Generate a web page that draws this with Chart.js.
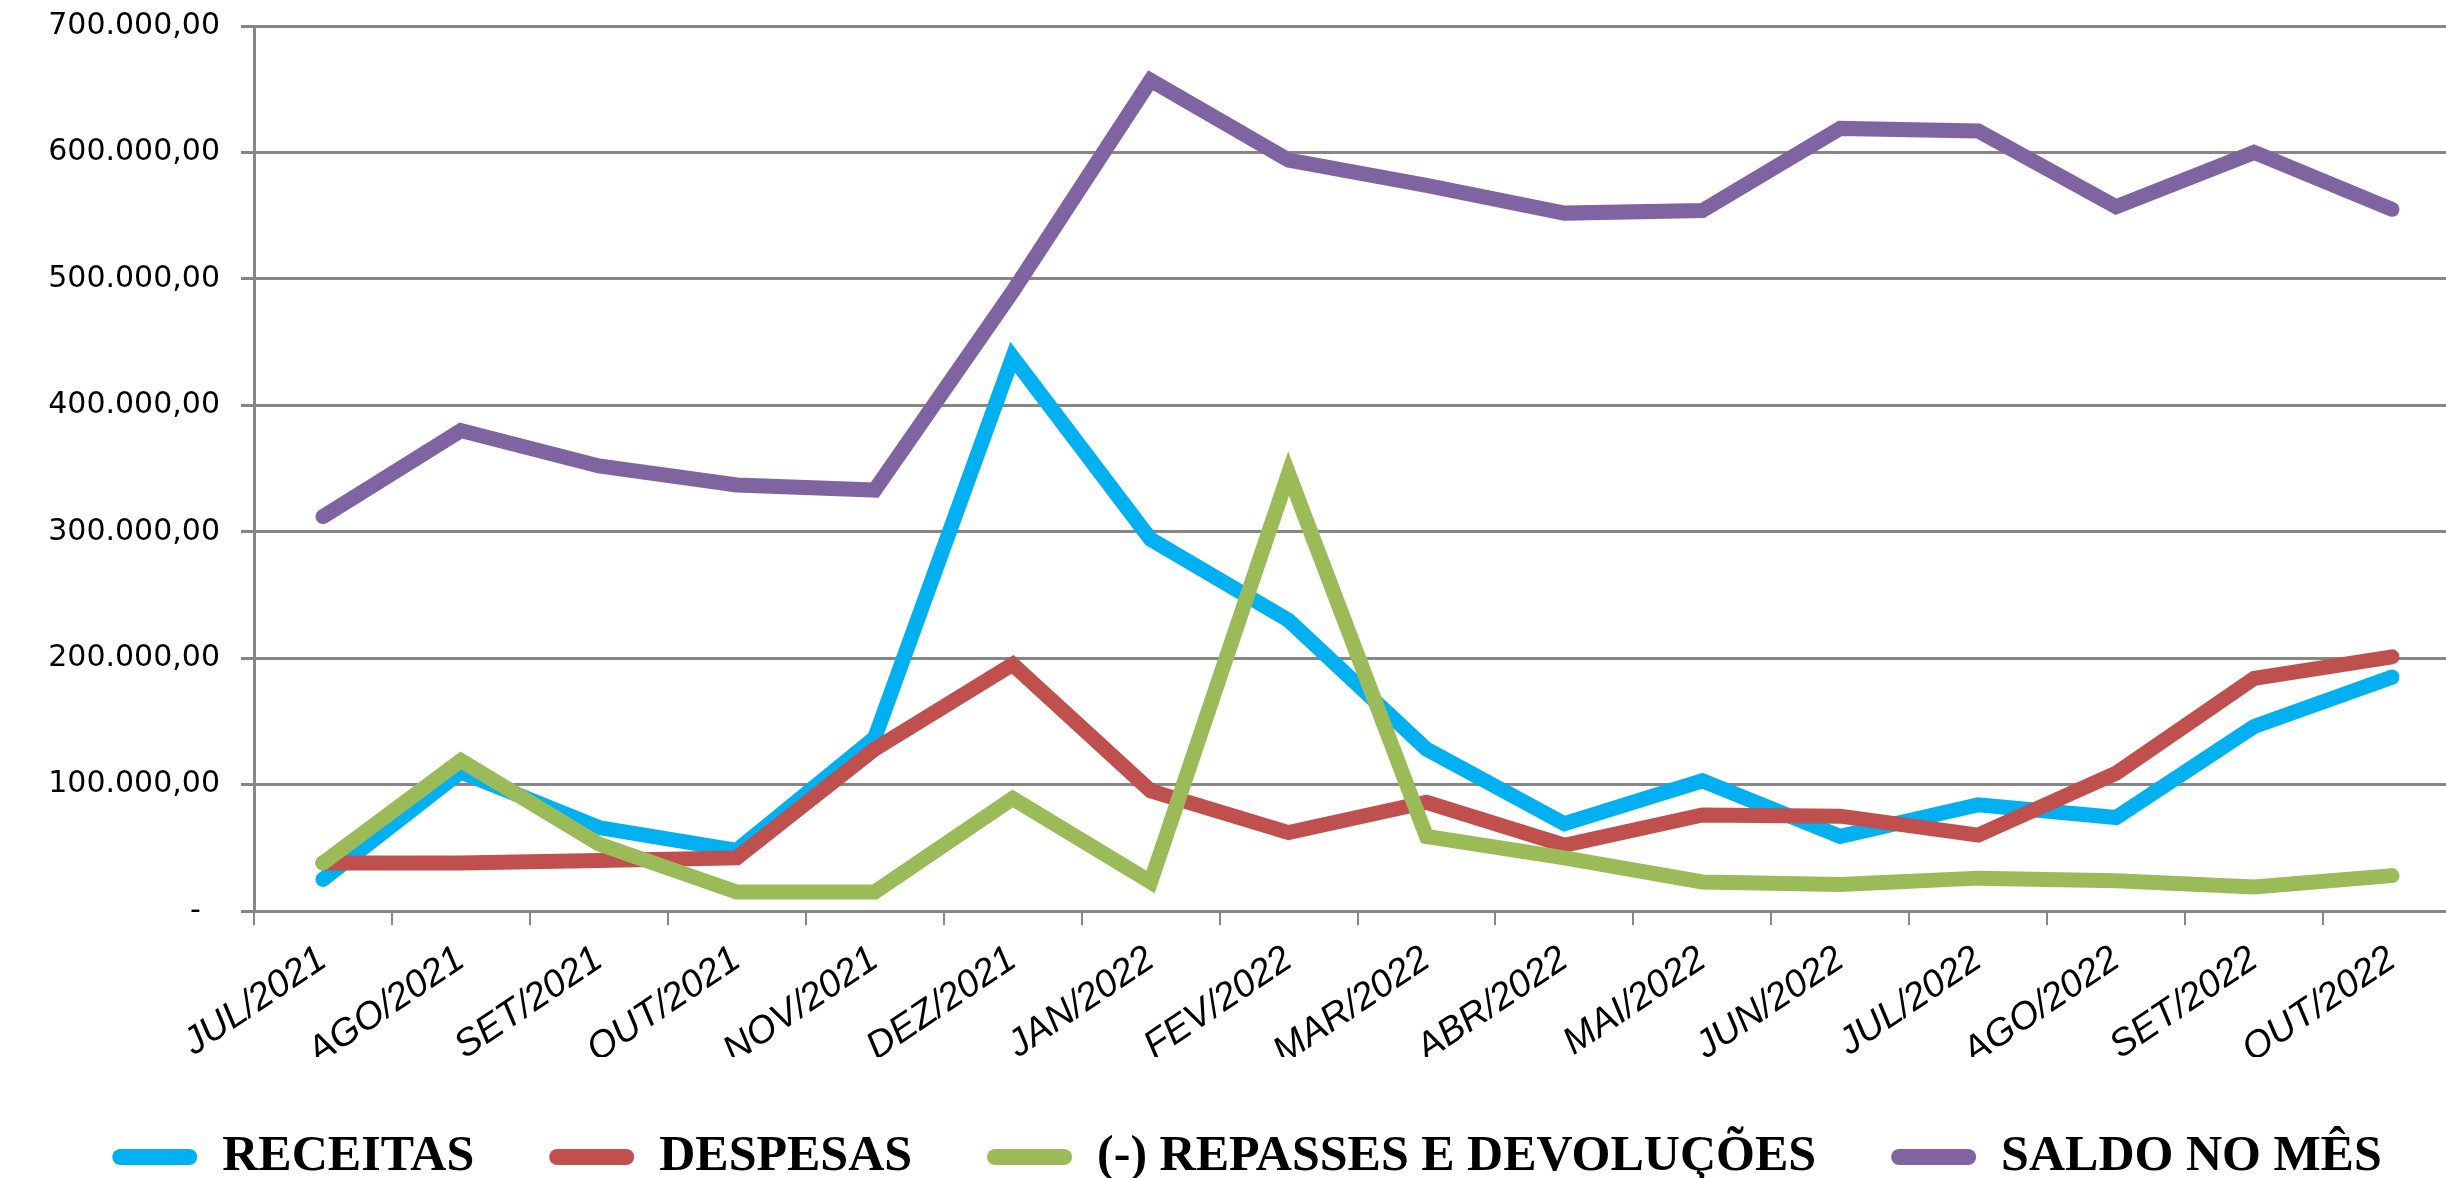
<!DOCTYPE html>
<html>
<head>
<meta charset="utf-8">
<script src="https://cdn.jsdelivr.net/npm/chart.js@4.4.1/dist/chart.umd.min.js"></script>
<style>
  html, body { margin: 0; padding: 0; background: #ffffff; overflow: hidden; width: 2446px; height: 1178px; }
  #wrap { position: absolute; left: 0; top: 0; width: 2494px; height: 1178px; }
</style>
</head>
<body>
<div id="wrap"><canvas id="c" width="2494" height="1178"></canvas></div>
<script>
const categories = ["JUL/2021","AGO/2021","SET/2021","OUT/2021","NOV/2021","DEZ/2021","JAN/2022","FEV/2022","MAR/2022","ABR/2022","MAI/2022","JUN/2022","JUL/2022","AGO/2022","SET/2022","OUT/2022"];
const receitas = [25000, 110000, 66000, 48000, 137000, 438000, 294000, 230000, 128000, 69000, 103000, 59000, 84000, 74000, 146000, 185000];
const despesas = [38000, 38000, 40000, 42000, 128000, 195000, 95000, 62000, 86000, 52000, 76000, 75000, 60000, 109000, 184000, 201000];
const repasses = [38000, 119000, 53000, 15000, 15000, 89000, 23000, 346000, 59000, 42000, 23000, 21000, 26000, 24000, 19000, 28000];
const saldo = [312000, 380000, 352000, 337000, 333000, 490000, 657000, 594000, 574000, 552000, 554000, 619000, 617000, 557000, 600000, 555000];
const seriesNames = ["RECEITAS", "DESPESAS", "(-) REPASSES E DEVOLUÇÕES", "SALDO NO MÊS"];
const seriesColors = ["#00B0F0", "#C0504D", "#9BBB59", "#8064A2"];
const yTicks = [0, 100000, 200000, 300000, 400000, 500000, 600000, 700000];

function fmt(v) {
  if (v === 0) return "-  ";
  const intPart = Math.round(v).toString().replace(/\B(?=(\d{3})+(?!\d))/g, ".");
  return intPart + ",00";
}

const seriesValues = [receitas, despesas, repasses, saldo];
const datasets = seriesValues.map((vals, i) => ({
  label: seriesNames[i],
  data: vals,
  borderColor: seriesColors[i],
  backgroundColor: seriesColors[i],
  borderWidth: 15,
  borderCapStyle: "round",
  pointRadius: 0,
  pointHoverRadius: 0,
  tension: 0,
  fill: false,
  order: 3 - i
}));

new Chart(document.getElementById("c"), {
  type: "line",
  data: { labels: categories, datasets },
  options: {
    responsive: false,
    devicePixelRatio: 1,
    animation: false,
    events: [],
    layout: { padding: { top: 26, left: 0, right: 0, bottom: -14 } },
    plugins: {
      tooltip: { enabled: false },
      legend: {
        position: "bottom",
        align: "center",
        labels: {
          font: { family: "Liberation Serif", weight: "bold", size: 50 },
          color: "#000000",
          boxWidth: 85,
          boxHeight: 16,
          padding: 75,
          useBorderRadius: true,
          borderRadius: 8,
          sort: (a, b) => a.datasetIndex - b.datasetIndex,
          generateLabels: (chart) => Chart.defaults.plugins.legend.labels.generateLabels(chart).map(l => Object.assign(l, { lineWidth: 0 }))
        }
      }
    },
    scales: {
      x: {
        type: "category",
        offset: true,
        grid: { display: true, drawOnChartArea: false, drawTicks: true, tickLength: 14, color: "#868686", lineWidth: 2, offset: true },
        border: { display: true, color: "#868686", width: 3 },
        ticks: {
          color: "#000000",
          font: { family: "Liberation Sans", style: "italic", size: 38 },
          minRotation: 34,
          maxRotation: 34,
          autoSkip: true,
          autoSkipPadding: 0,
          padding: 12
        },
        afterFit: (s) => { s.height = 146; s.paddingLeft = 0; s.paddingRight = 0; }
      },
      y: {
        position: "left",
        min: 0,
        max: 700000,
        afterBuildTicks: (s) => { s.ticks = yTicks.map(v => ({ value: v })); },
        grid: { color: "#868686", lineWidth: 3, drawTicks: true, tickLength: 13 },
        border: { display: true, color: "#868686", width: 3 },
        ticks: {
          color: "#000000",
          font: { family: "DejaVu Sans", size: 30 },
          padding: 21,
          callback: (v) => fmt(v)
        },
        afterFit: (s) => { s.width = 254; s.paddingTop = 0; s.paddingBottom = 0; }
      },
      y2: {
        position: "right",
        display: true,
        grid: { display: false },
        border: { display: false },
        ticks: { display: false },
        afterFit: (s) => { s.width = 33; s.paddingTop = 0; s.paddingBottom = 0; }
      }
    }
  }
});
</script>
</body>
</html>
